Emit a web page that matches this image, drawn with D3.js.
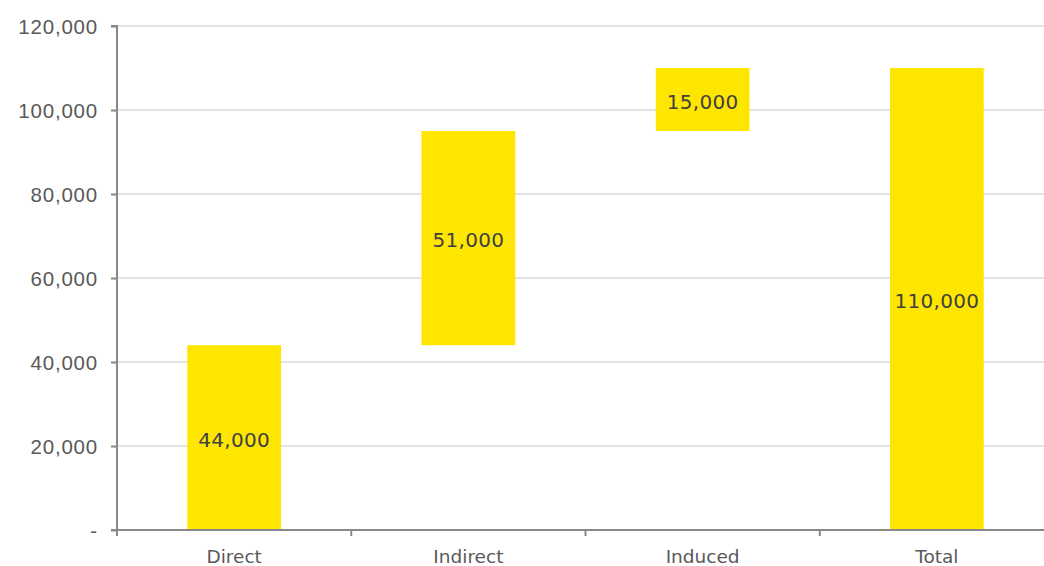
<!DOCTYPE html>
<html>
<head>
<meta charset="utf-8">
<script src="https://cdn.jsdelivr.net/npm/d3@7"></script>
<style>
  html, body { margin: 0; padding: 0; background: #fff; }
  svg { display: block; font-family: "DejaVu Sans", "Open Sans", sans-serif; }
</style>
</head>
<body>
<svg id="chart" width="1044" height="566"></svg>
<script>
// Waterfall: contributions stack up into the total
const categories = ["Direct", "Indirect", "Induced", "Total"];
const values = [44000, 51000, 15000, 110000];
const isTotal = [false, false, false, true];
const yTicks = [0, 20000, 40000, 60000, 80000, 100000, 120000];

// Build floating segments (start/end) for each bar
let running = 0;
const bars = categories.map((c, i) => {
  let start, end;
  if (isTotal[i]) { start = 0; end = values[i]; }
  else { start = running; end = running + values[i]; running = end; }
  return { category: c, value: values[i], start, end };
});

const svg = d3.select("#chart");
const plotLeft = 117, plotTop = 26, plotBottom = 530, bandRight = 1054, gridRight = 1044;

const x = d3.scaleBand().domain(categories).range([plotLeft, bandRight]).paddingInner(0.6).paddingOuter(0.3);
const y = d3.scaleLinear().domain([0, 120000]).range([plotBottom, plotTop]);

const fmt = d3.format(",");

// Gridlines
svg.append("g").selectAll("line").data(yTicks.filter(t => t > 0)).join("line")
  .attr("x1", plotLeft).attr("x2", gridRight)
  .attr("y1", d => y(d)).attr("y2", d => y(d))
  .attr("stroke", "#d9d9d9").attr("stroke-width", 1.5);

// Bars
svg.append("g").selectAll("rect").data(bars).join("rect")
  .attr("x", d => x(d.category))
  .attr("width", x.bandwidth())
  .attr("y", d => y(d.end))
  .attr("height", d => y(d.start) - y(d.end))
  .attr("fill", "#ffe600");

// Y axis
const yAxis = svg.append("g").attr("transform", `translate(${plotLeft},0)`)
  .call(d3.axisLeft(y).tickValues(yTicks).tickSize(6).tickPadding(13)
    .tickFormat(d => d === 0 ? "-" : fmt(d)));
yAxis.select(".domain").attr("stroke", "#888").attr("stroke-width", 2).attr("d", `M-6,${plotTop}H0V${plotBottom + 5}`);
yAxis.selectAll(".tick line").attr("stroke", "#888").attr("stroke-width", 2);
yAxis.selectAll(".tick text").attr("fill", "#595959").attr("font-size", 20.5)
  .attr("letter-spacing", "0.8px").attr("dy", "0.36em");

// X axis
const xAxis = svg.append("g").attr("transform", `translate(0,${plotBottom})`);
xAxis.append("line").attr("x1", plotLeft - 6).attr("x2", gridRight)
  .attr("stroke", "#888").attr("stroke-width", 2);
const boundaries = categories.map((c, i) => plotLeft + i * x.step());
xAxis.selectAll("line.tk").data(boundaries).join("line").attr("class", "tk")
  .attr("x1", d => d).attr("x2", d => d).attr("y1", 0).attr("y2", 6)
  .attr("stroke", "#888").attr("stroke-width", 2);
xAxis.selectAll("text").data(categories).join("text")
  .attr("x", d => x(d) + x.bandwidth() / 2)
  .attr("y", 33)
  .attr("text-anchor", "middle")
  .attr("fill", "#595959").attr("font-size", 18.5)
  .text(d => d);

// Value labels centred in each bar
svg.append("g").selectAll("text").data(bars).join("text")
  .attr("x", d => x(d.category) + x.bandwidth() / 2)
  .attr("y", d => (y(d.start) + y(d.end)) / 2 + 9)
  .attr("text-anchor", "middle")
  .attr("fill", "#404040").attr("font-size", 20)
  .attr("letter-spacing", "0.3px")
  .text(d => fmt(d.value));
</script>
</body>
</html>
